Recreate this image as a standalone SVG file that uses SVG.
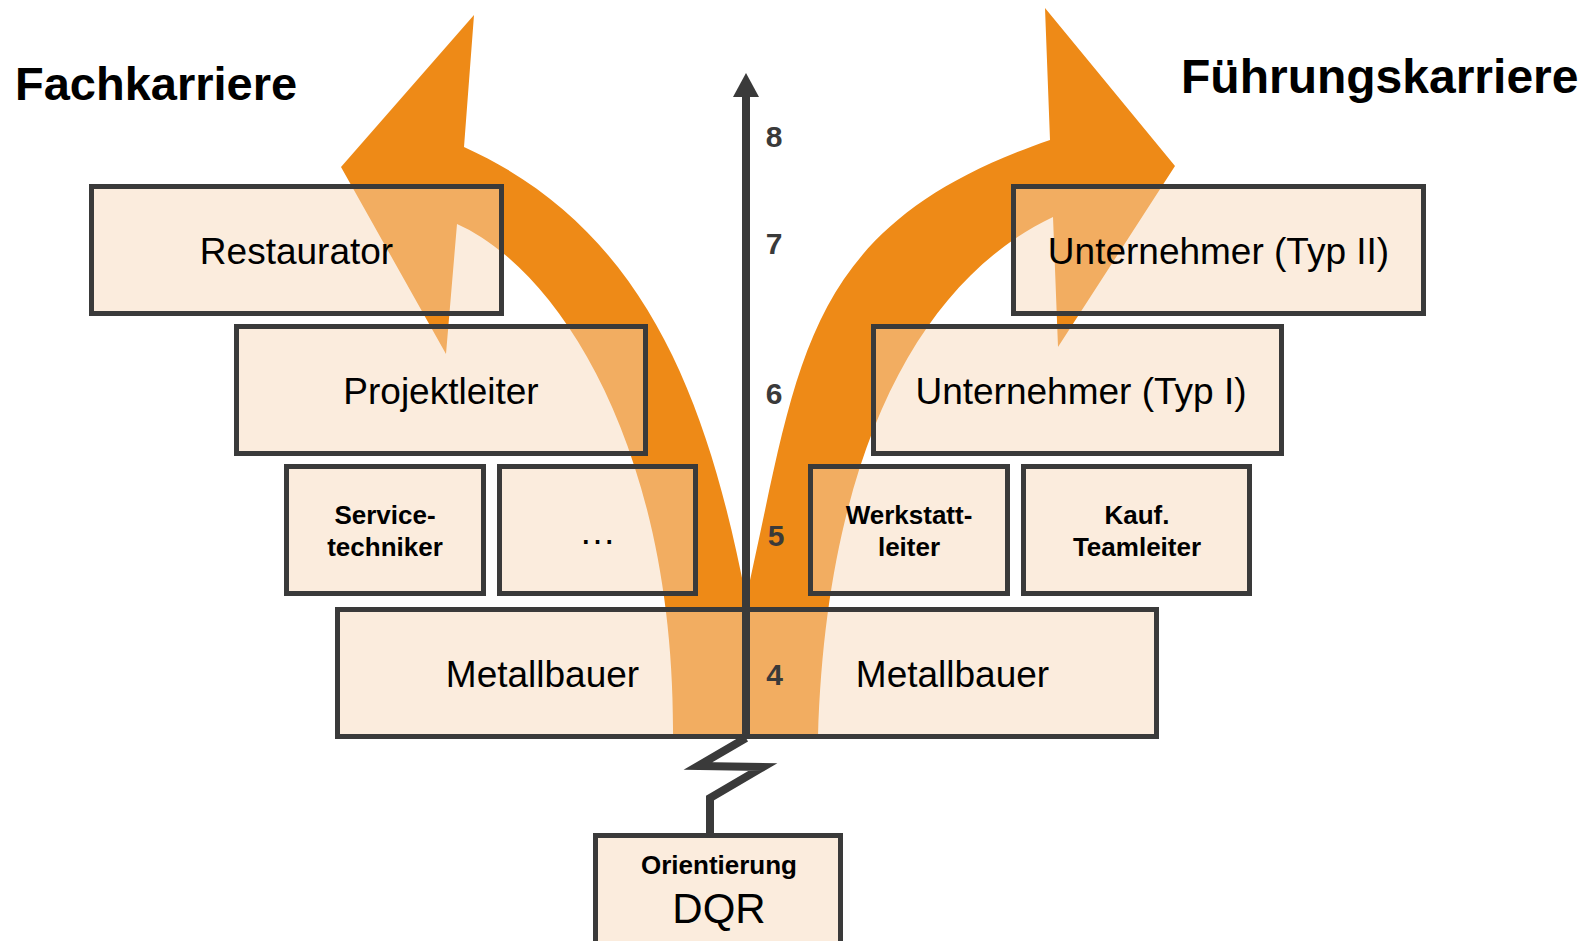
<svg xmlns="http://www.w3.org/2000/svg" width="1589" height="941" viewBox="0 0 1589 941">
<style>
.box{fill:rgb(246,214,182);fill-opacity:0.465;stroke:#3a3a3a;stroke-width:5}
.arrow{fill:#EE8A17;stroke:none}
.t{font-family:"Liberation Sans",Arial,sans-serif;fill:#000;text-anchor:middle}
.big{font-size:37px}
.small{font-size:26px;font-weight:bold}
.title{font-family:"Liberation Sans",Arial,sans-serif;font-size:48px;font-weight:bold;fill:#000}
.num{font-family:"Liberation Sans",Arial,sans-serif;font-size:30px;font-weight:bold;fill:#3a3a3a;text-anchor:middle}
.line{fill:none;stroke:#3a3a3a;stroke-width:8}
</style>
<rect width="1589" height="941" fill="#fff"/>
<g id="arrows">
<path class="arrow" d="M474,15 L341,167 L446,354 L457,224 C560,270 675,450 673,737 L746,737 L746,598 C708,402 646,229 464,147 Z"/>
<path class="arrow" d="M1045,8 L1175,166 L1058,347 L1053,217 C918,281 826,457 818,737 L746,737 L746,598 C800,360 800,226 1050,140 Z"/>
</g>
<g id="node-restaurator"><rect class="box" x="91.5" y="186.5" width="410" height="127"/><text class="t big" x="296.5" y="264">Restaurator</text></g>
<g id="node-projektleiter"><rect class="box" x="236.5" y="326.5" width="409" height="127"/><text class="t big" x="441" y="404">Projektleiter</text></g>
<g id="node-servicetechniker"><rect class="box" x="286.5" y="466.5" width="197" height="127"/><text class="t small" x="385" y="524">Service-</text><text class="t small" x="385" y="556">techniker</text></g>
<g id="node-dots"><rect class="box" x="499.5" y="466.5" width="196" height="127"/><text class="t big" x="597.5" y="544">…</text></g>
<g id="node-metallbauer"><rect class="box" x="337.5" y="609.5" width="819" height="127"/><text class="t big" x="542.5" y="687">Metallbauer</text><text class="t big" x="952.5" y="687">Metallbauer</text></g>
<g id="node-werkstattleiter"><rect class="box" x="810.5" y="466.5" width="197" height="127"/><text class="t small" x="909" y="524">Werkstatt-</text><text class="t small" x="909" y="556">leiter</text></g>
<g id="node-teamleiter"><rect class="box" x="1023.5" y="466.5" width="226" height="127"/><text class="t small" x="1137" y="524">Kauf.</text><text class="t small" x="1137" y="556">Teamleiter</text></g>
<g id="node-unternehmer1"><rect class="box" x="873.5" y="326.5" width="408" height="127"/><text class="t big" x="1081" y="404">Unternehmer (Typ I)</text></g>
<g id="node-unternehmer2"><rect class="box" x="1013.5" y="186.5" width="410" height="127"/><text class="t big" x="1218.5" y="264">Unternehmer (Typ II)</text></g>
<g id="node-dqr"><rect class="box" x="595.5" y="835.5" width="245" height="120"/><text class="t small" x="719" y="874">Orientierung</text><text class="t" style="font-size:42px" x="719" y="923">DQR</text></g>
<g id="connectors">
<line class="line" x1="746" y1="737" x2="746" y2="94"/>
<polygon points="733,97 759,97 746,73" fill="#3a3a3a"/>
<polyline class="line" points="746,738 698,766 763,767 710,798 710,834" stroke-linejoin="miter"/>
</g>
<g id="scale">
<text class="num" x="774" y="147">8</text>
<text class="num" x="774" y="254">7</text>
<text class="num" x="774" y="404">6</text>
<text class="num" x="776" y="546">5</text>
<text class="num" x="774.5" y="685">4</text>
</g>
<text class="title" x="15" y="100" style="font-size:47px">Fachkarriere</text>
<text class="title" x="1181" y="93">Führungskarriere</text>
</svg>
